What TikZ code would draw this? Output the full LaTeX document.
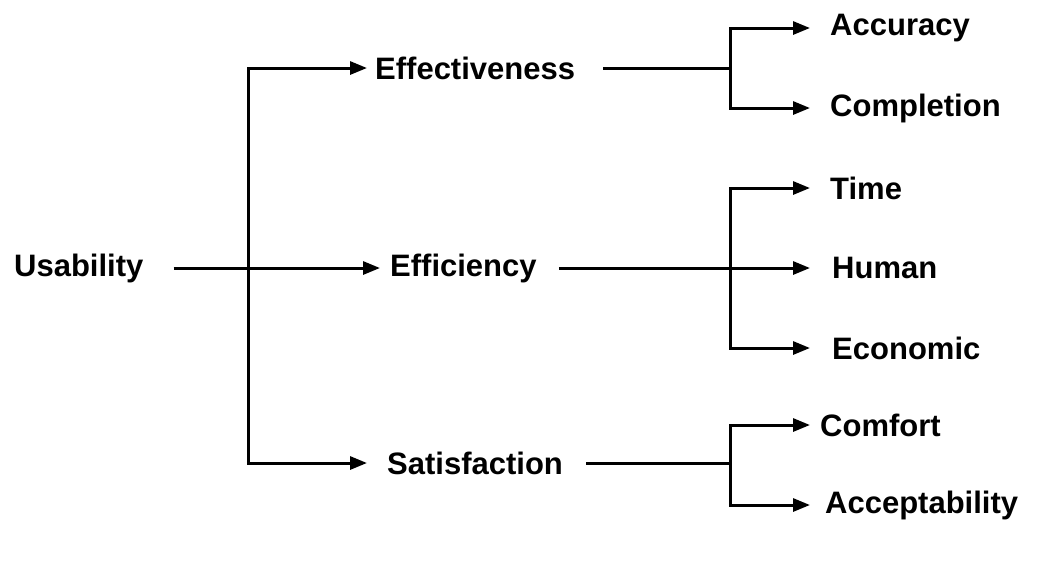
\documentclass[tikz,border=0pt]{standalone}
\usepackage{fontspec}
\setmainfont{Liberation Sans}
\usetikzlibrary{arrows.meta}
\begin{document}
\begin{tikzpicture}[x=1pt,y=-1pt,
  lbl/.style={anchor=west,inner sep=0pt,font=\fontsize{31}{36}\selectfont\bfseries},
  conn/.style={line width=3pt},
  arr/.style={conn,-{Triangle[length=17pt,width=13pt]}}]
\useasboundingbox (0,0) rectangle (1053,563);
\node[lbl] (u) at (14,268) {Usability};
\node[lbl] (e1) at (375,68) {Effectiveness};
\node[lbl] (e2) at (390,268) {Efficiency};
\node[lbl] (e3) at (387,463) {Satisfaction};
\node[lbl] (a1) at (830,28) {Accuracy};
\node[lbl] (a2) at (830,108) {Completion};
\node[lbl] (b1) at (830,188) {Time};
\node[lbl] (b2) at (832,268) {Human};
\node[lbl] (b3) at (832,348) {Economic};
\node[lbl] (c1) at (820,425) {Comfort};
\node[lbl] (c2) at (825,505) {Acceptability};
\coordinate (s0) at (248,268);
\coordinate (s1) at (730,68);
\coordinate (s2) at (730,268);
\coordinate (s3) at (730,463);
\draw[conn] ([xshift=30pt]u.east) -- (s0);
\draw[arr] (s0) -- ([xshift=-10pt]e2.west);
\draw[arr] (s0) |- ([xshift=-8pt]e1.west);
\draw[arr] (s0) |- ([xshift=-20pt]e3.west);
\draw[conn] ([xshift=28pt]e1.east) -- (s1);
\draw[arr] (s1) |- ([xshift=-20pt]a1.west);
\draw[arr] (s1) |- ([xshift=-20pt]a2.west);
\draw[conn] ([xshift=22pt]e2.east) -- (s2);
\draw[arr] (s2) -- ([xshift=-22pt]b2.west);
\draw[arr] (s2) |- ([xshift=-20pt]b1.west);
\draw[arr] (s2) |- ([xshift=-22pt]b3.west);
\draw[conn] ([xshift=23pt]e3.east) -- (s3);
\draw[arr] (s3) |- ([xshift=-10pt]c1.west);
\draw[arr] (s3) |- ([xshift=-15pt]c2.west);
\end{tikzpicture}
\end{document}
